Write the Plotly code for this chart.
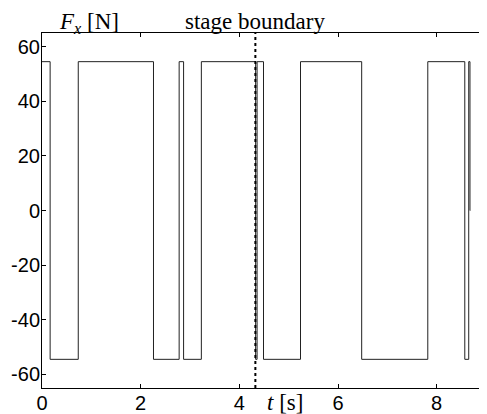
import plotly.graph_objects as go

# switching times [s] and force levels [N]
t_switch = [0, 0.165, 0.735, 2.26, 2.78, 2.87, 3.23, 4.33, 4.36, 4.49, 5.24, 6.48, 7.82, 8.57, 8.65, 8.675, 8.68]
f_value = [54.5, -54.5, 54.5, -54.5, 54.5, -54.5, 54.5, -54.5, 54.5, -54.5, 54.5, -54.5, 54.5, -54.5, 54.5, 0, 0]
stage_boundary = 4.325

x_ticks = [0, 2, 4, 6, 8]
x_ticktext = ["0", "2", "4", "6", "8"]
y_ticks = [-60, -40, -20, 0, 20, 40, 60]
y_ticktext = ["-60", "-40", "-20", "0", "20", "40", "60"]

fig = go.Figure()
fig.add_trace(go.Scatter(x=t_switch, y=f_value, mode="lines", line_shape="hv",
                         line=dict(color="#222222", width=1), showlegend=False))
fig.add_trace(go.Scatter(x=[stage_boundary, stage_boundary], y=[-65, 65], mode="lines",
                         line=dict(color="black", width=2, dash="dot"), showlegend=False))

tickfont = dict(family="Liberation Sans, Arial, sans-serif", size=20, color="black")
serif = dict(family="Liberation Serif, Times New Roman, serif", size=23, color="black")
# page body has an 8px default margin, so the figure is 8px smaller than the window
fig.update_layout(
    width=479, height=406,
    margin=dict(l=34, r=1, t=25, b=26, autoexpand=False),
    paper_bgcolor="white", plot_bgcolor="white",
    xaxis=dict(range=[0, 9], tickvals=x_ticks, ticktext=x_ticktext, ticks="inside", ticklen=4,
               tickcolor="black", showline=True, linecolor="black", linewidth=1, mirror="ticks",
               showgrid=False, zeroline=False, tickfont=tickfont, automargin=False,
               ticklabelstandoff=-3),
    yaxis=dict(range=[-65, 65], tickvals=y_ticks, ticktext=y_ticktext, ticks="inside", ticklen=4,
               tickcolor="black", showline=True, linecolor="black", linewidth=1, mirror="ticks",
               showgrid=False, zeroline=False, tickfont=tickfont, automargin=False,
               ticklabelstandoff=-3),
    annotations=[
        dict(text="<i>F<sub>x</sub></i> [N]", x=(57 - 42) / 444, y=1.0, xref="paper", yref="paper",
             showarrow=False, font=serif, xanchor="left", yanchor="bottom", yshift=-6),
        dict(text="stage boundary", x=stage_boundary, y=1.0, xref="x", yref="paper",
             showarrow=False, font=serif, xanchor="center", yanchor="bottom", yshift=-3),
        dict(text="<i>t</i> [s]", x=4.93, y=0, xref="x", yref="paper",
             showarrow=False, font=serif, xanchor="center", yanchor="top", yshift=0),
    ],
)
fig.write_html("out.html")
